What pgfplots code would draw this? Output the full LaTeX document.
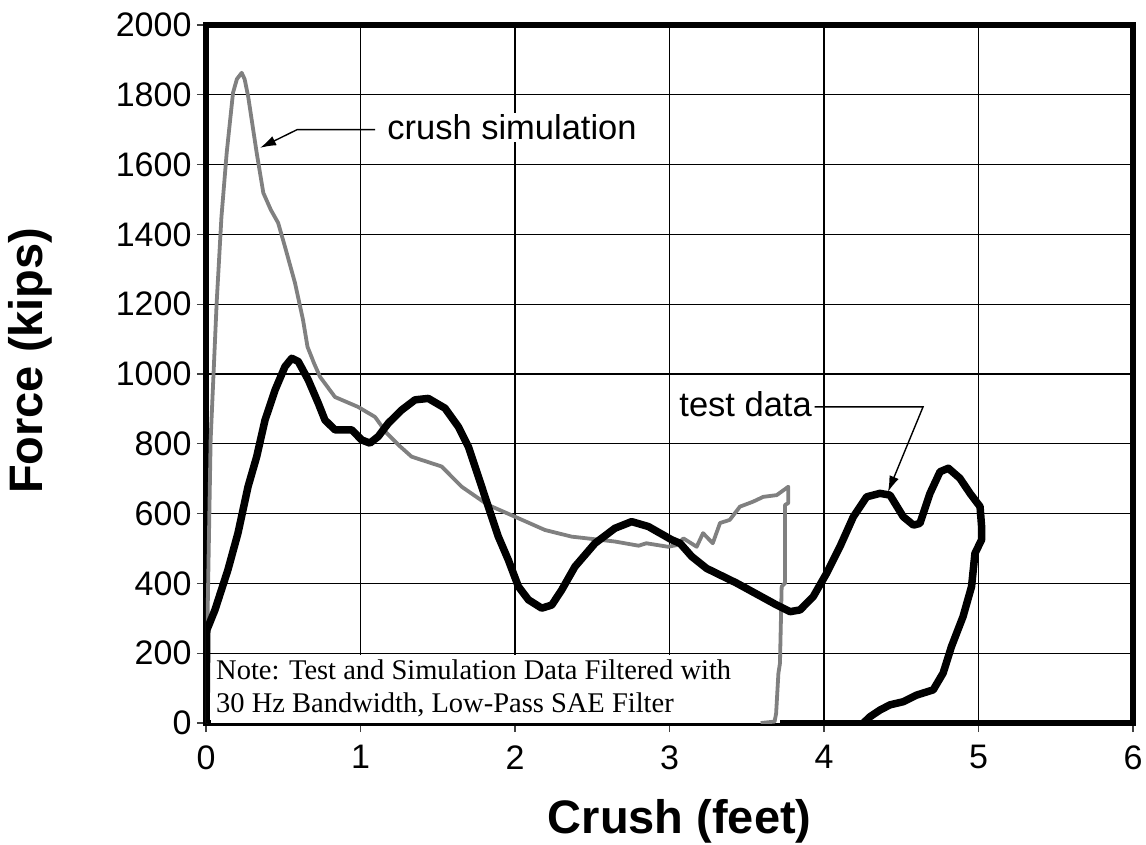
\documentclass[border=0pt]{standalone}
\usepackage{pgfplots}
\pgfplotsset{compat=1.18}
\usepackage{fontspec}
\setmainfont{Liberation Sans}
\newfontfamily\timesfont{Liberation Serif}
\usetikzlibrary{arrows.meta}
\begin{document}
\begin{tikzpicture}
\useasboundingbox (-206pt,-121pt) rectangle (940pt,723pt);
\begin{axis}[
  scale only axis, width=927pt, height=698pt,
  at={(0pt,0pt)}, anchor=south west,
  xmin=0, xmax=6, ymin=0, ymax=2000,
  xtick={0,1,2,3,4,5,6}, ytick={0,200,...,2000},
  xtick pos=bottom, ytick pos=left,
  tick align=outside, major tick length=9pt,
  tick style={black!75, line width=1.2pt},
  grid=major, major grid style={black, line width=1.2pt},
  axis line style={black, line width=5.5pt},
  /pgf/number format/assume math mode=true,
  /pgf/number format/1000 sep={},
  ticklabel style={font=\fontsize{34}{40}\selectfont},
  xticklabel style={yshift=-10pt},
  yticklabel style={xshift=-2pt},
  xlabel={Crush (feet)},
  ylabel={Force (kips)},
  xlabel style={font=\bfseries\fontsize{47}{54}\selectfont, at={(axis description cs:0.511,0)}, anchor=base, yshift=-110pt},
  ylabel style={font=\bfseries\fontsize{47}{54}\selectfont, at={(axis description cs:0,0.519)}, anchor=center, yshift=176pt},
]
\fill[white] (axis cs:0.03,0) rectangle (axis cs:3.715,196);
\node[anchor=base west, inner sep=0pt, font=\timesfont\fontsize{28.5}{32}\selectfont] at (axis cs:0.065,126) {Note: Test and Simulation Data Filtered with};
\node[anchor=base west, inner sep=0pt, font=\timesfont\fontsize{28.5}{32}\selectfont] at (axis cs:0.065,31.5) {30 Hz Bandwidth, Low-Pass SAE Filter};

\addplot[color=black!50, line width=3.8pt, line join=round] coordinates {
(0,0) (0.01,300) (0.03,811) (0.069,1204) (0.1,1450) (0.134,1634) (0.175,1806)
(0.2,1845) (0.231,1863) (0.25,1845) (0.273,1795) (0.328,1634) (0.371,1519)
(0.42,1470) (0.467,1433) (0.511,1365) (0.576,1261) (0.628,1155) (0.657,1078)
(0.7,1030) (0.738,992) (0.835,934) (0.983,906) (1.094,877) (1.169,831)
(1.25,795) (1.331,763) (1.525,735) (1.655,677) (1.825,625) (2.0,591)
(2.194,553) (2.367,534) (2.647,520) (2.8,508) (2.85,515) (2.99,505)
(3.05,510) (3.09,529) (3.176,505) (3.217,544) (3.28,515) (3.327,573)
(3.39,582) (3.456,620) (3.54,634) (3.607,648) (3.694,653) (3.769,677)
(3.769,630) (3.748,625) (3.748,401) (3.726,391) (3.715,171) (3.705,143)
(3.69,27) (3.68,4) (3.59,0)
};

\addplot[color=black, line width=7.5pt, line join=round] coordinates {
(0,0) (0.005,266) (0.058,324) (0.142,439) (0.207,544) (0.272,677) (0.328,763)
(0.382,868) (0.447,954) (0.511,1021) (0.555,1045) (0.597,1036) (0.662,983)
(0.727,916) (0.77,868) (0.835,840) (0.943,840) (1.008,811) (1.061,802)
(1.115,821) (1.18,859) (1.267,897) (1.353,926) (1.439,930) (1.547,902)
(1.633,849) (1.698,792) (1.763,706) (1.827,620) (1.892,534) (1.957,467)
(2.022,391) (2.087,353) (2.173,329) (2.238,338) (2.302,381) (2.388,448)
(2.518,515) (2.647,558) (2.755,577) (2.863,563) (3.014,525) (3.068,515)
(3.144,477) (3.24,443) (3.434,401) (3.694,338) (3.78,319) (3.845,324)
(3.93,362) (4.017,429) (4.103,505) (4.19,591) (4.276,648) (4.362,658)
(4.427,653) (4.513,591) (4.579,567) (4.621,572) (4.686,658) (4.751,720)
(4.805,730) (4.88,701) (4.945,658) (5.01,620) (5.02,563) (5.02,525)
(4.977,486) (4.955,391) (4.9,305) (4.825,219) (4.771,143) (4.707,95)
(4.6,80) (4.513,61) (4.427,52) (4.362,37) (4.298,18) (4.255,0)
};

\draw[black, line width=1.4pt, -{Latex[length=16pt,width=10pt]}] (axis cs:1.094,1700) -- (axis cs:0.589,1700) -- (axis cs:0.35,1648);
\node[anchor=base west, fill=white, inner sep=2pt, font=\fontsize{34.5}{40}\selectfont] at (axis cs:1.16,1671) {crush simulation};
\draw[black, line width=1.4pt, -{Latex[length=16pt,width=10pt]}] (axis cs:3.94,905.7) -- (axis cs:4.641,905.7) -- (axis cs:4.414,662);
\node[anchor=base east, fill=white, inner sep=2pt, font=\fontsize{34.5}{40}\selectfont] at (axis cs:3.935,877) {test data};
\end{axis}
\end{tikzpicture}
\end{document}
